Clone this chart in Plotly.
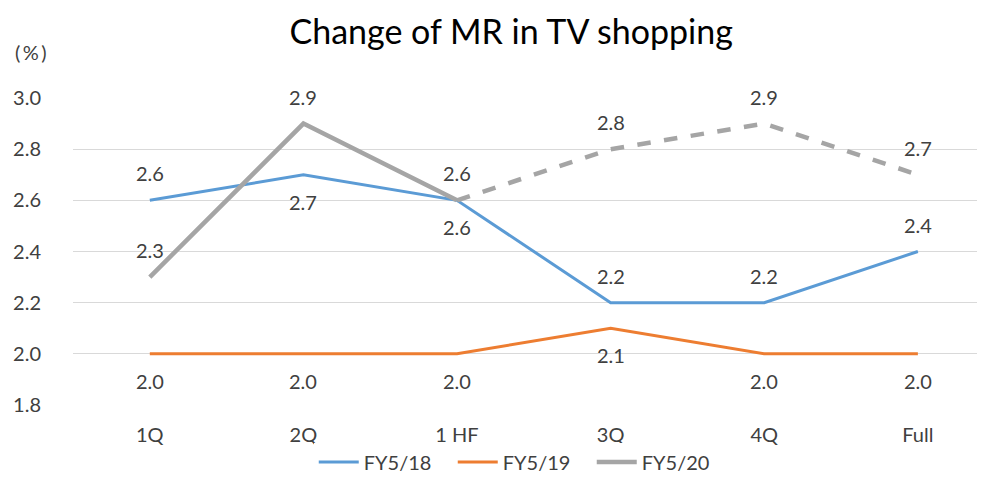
import plotly.graph_objects as go

categories = ["1Q", "2Q", "1 HF", "3Q", "4Q", "Full"]
fy18 = [2.6, 2.7, 2.6, 2.2, 2.2, 2.4]
fy19 = [2.0, 2.0, 2.0, 2.1, 2.0, 2.0]
fy20_actual = [2.3, 2.9, 2.6]            # 1Q, 2Q, 1 HF
fy20_plan = [2.6, 2.8, 2.9, 2.7]         # 1 HF, 3Q, 4Q, Full

# label placement (+1 above, -1 below)
pos18 = [1, -1, -1, 1, 1, 1]
pos19 = [-1, -1, -1, -1, -1, -1]

BLUE = "#5B9BD5"
ORANGE = "#ED7D31"
GRAY = "#A5A5A5"
TXT = "#404040"
FONT = "Lato"

xi = list(range(len(categories)))

fig = go.Figure()
fig.add_trace(go.Scatter(x=xi, y=fy18, mode="lines", name="FY5/18",
                         line=dict(color=BLUE, width=3)))
fig.add_trace(go.Scatter(x=xi, y=fy19, mode="lines", name="FY5/19",
                         line=dict(color=ORANGE, width=3)))
fig.add_trace(go.Scatter(x=xi[:3], y=fy20_actual, mode="lines", name="FY5/20",
                         line=dict(color=GRAY, width=4.5)))
fig.add_trace(go.Scatter(x=xi[2:], y=fy20_plan, mode="lines", name="FY5/20 plan",
                         showlegend=False,
                         line=dict(color=GRAY, width=4.5, dash="dash")))

def add_labels(xs, ys, poss):
    for x, y, p in zip(xs, ys, poss):
        fig.add_annotation(x=x, y=y, xref="x", yref="y", text=f"{y:.1f}",
                           showarrow=False, yshift=27 * p,
                           font=dict(family=FONT, size=20, color=TXT))

add_labels(xi, fy18, pos18)
add_labels(xi, fy19, pos19)
add_labels(xi[:3], fy20_actual, [1, 1, 1])
add_labels(xi[3:], fy20_plan[1:], [1, 1, 1])

fig.add_annotation(text="(\u2009%\u2009)", xref="paper", yref="paper",
                   x=-0.0466, y=1.15, showarrow=False, xanchor="center", yanchor="middle",
                   font=dict(family=FONT, size=20, color=TXT))

fig.update_layout(
    width=977, height=484,
    margin=dict(l=64.5, r=0, t=90, b=87),
    paper_bgcolor="white", plot_bgcolor="white",
    title=dict(text="Change of MR in TV shopping", x=0.515, xanchor="center",
               y=0.950, yanchor="middle",
               font=dict(family=FONT, size=34, color="#000000")),
    xaxis=dict(tickmode="array", tickvals=xi, ticktext=categories,
               range=[-0.5, 5.437], showgrid=False, zeroline=False,
               showline=False, ticks="", ticklabelstandoff=16,
               tickfont=dict(family=FONT, size=20, color=TXT)),
    yaxis=dict(range=[1.8, 3.0], dtick=0.2, tickformat=".1f",
               showgrid=True, gridcolor="#D9D9D9", gridwidth=1,
               zeroline=False, showline=False, ticks="",
               ticklabelstandoff=31,
               tickfont=dict(family=FONT, size=20, color=TXT)),
    legend=dict(orientation="h", x=0.4926, xanchor="center", y=-0.186, yanchor="middle",
                font=dict(family=FONT, size=20, color=TXT),
                itemwidth=40, tracegroupgap=0, entrywidth=84),
    showlegend=True,
)

fig.write_html("out.html")
